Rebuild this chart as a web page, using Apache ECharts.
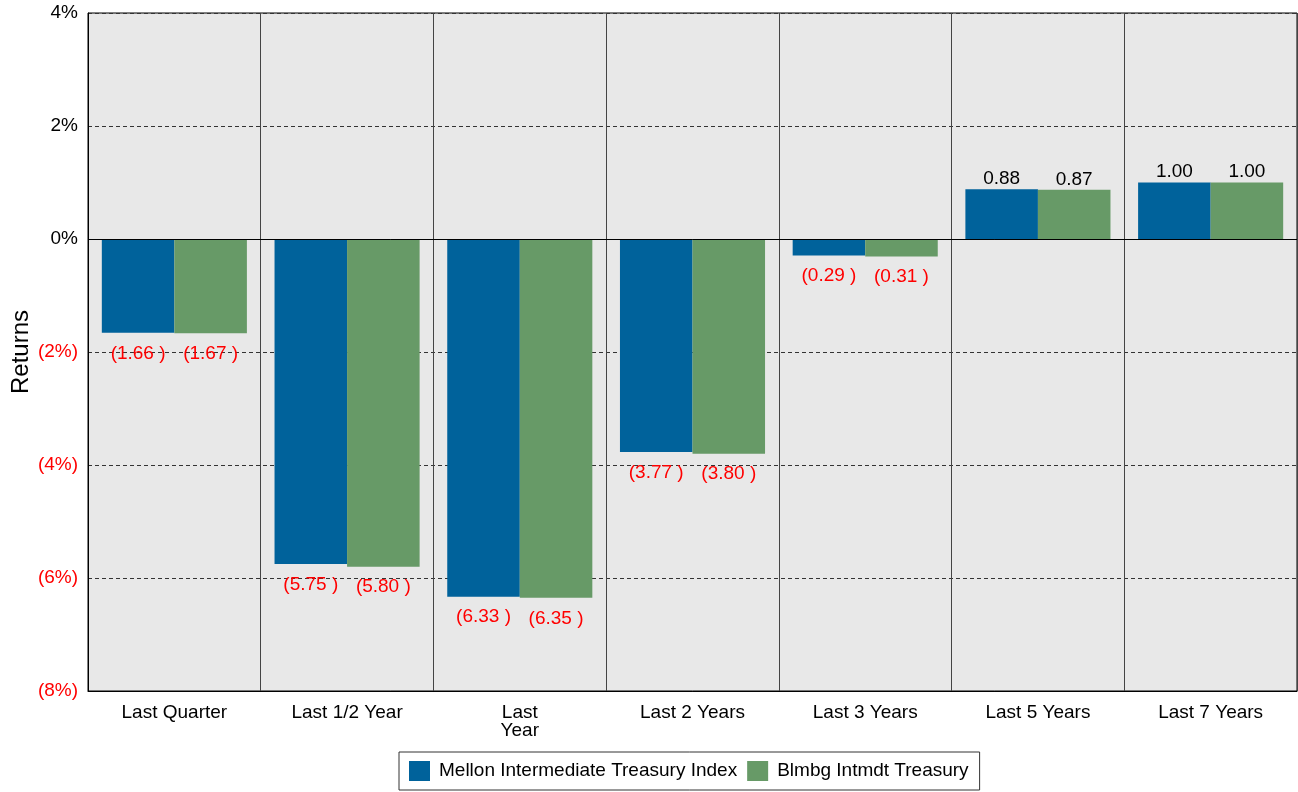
<!DOCTYPE html>
<html>
<head>
<meta charset="utf-8">
<script src="https://cdn.jsdelivr.net/npm/echarts@6/dist/echarts.min.js"></script>
<style>
html,body{margin:0;padding:0;background:#fff;}
#chart{width:1298px;height:792px;}
</style>
</head>
<body>
<div id="chart"></div>
<script>
const categories = ['Last Quarter', 'Last 1/2 Year', 'Last\nYear', 'Last 2 Years', 'Last 3 Years', 'Last 5 Years', 'Last 7 Years'];
const seriesNames = ['Mellon Intermediate Treasury Index', 'Blmbg Intmdt Treasury'];
const mellonValues = [-1.66, -5.75, -6.33, -3.77, -0.29, 0.88, 1.00];
const blmbgValues = [-1.67, -5.80, -6.35, -3.80, -0.31, 0.87, 1.00];
const yTicks = [-8, -6, -4, -2, 0, 2, 4];

const FONT = 'Liberation Sans, Arial, sans-serif';

function fmtVal(v) {
  return v < 0 ? '(' + Math.abs(v).toFixed(2) + ' )' : v.toFixed(2);
}
function toData(arr) {
  return arr.map(v => ({
    value: v,
    label: {
      position: v < 0 ? 'bottom' : 'top',
      distance: v < 0 ? 11 : 1,
      color: v < 0 ? '#ff0000' : '#000000'
    }
  }));
}

const chart = echarts.init(document.getElementById('chart'), null, {renderer: 'canvas'});
const barLabel = {
  show: true,
  fontFamily: FONT,
  fontSize: 19,
  formatter: p => fmtVal(p.value)
};
chart.setOption({
  animation: false,
  textStyle: {fontFamily: FONT},
  grid: {
    left: 88, top: 13, right: 1, bottom: 101,
    containLabel: false,
    outerBoundsMode: 'none',
    show: true, backgroundColor: '#e8e8e8', borderColor: '#000', borderWidth: 1
  },
  legend: {
    top: 752,
    left: 399,
    data: seriesNames,
    itemWidth: 21,
    itemHeight: 20,
    itemGap: 10,
    icon: 'rect',
    borderColor: '#333',
    borderWidth: 1,
    padding: [9, 11, 9, 10],
    textStyle: {fontFamily: FONT, fontSize: 19, color: '#000', padding: [0, 0, 0, 4]}
  },
  xAxis: {
    type: 'category',
    data: categories,
    axisTick: {show: false},
    axisLine: {show: true, onZero: false, lineStyle: {color: '#000', width: 1}},
    axisLabel: {fontFamily: FONT, fontSize: 19, color: '#000', margin: 13, interval: 0, lineHeight: 18},
    splitLine: {show: true, interval: 0, lineStyle: {color: '#444', width: 1, type: 'solid'}}
  },
  yAxis: {
    type: 'value',
    min: yTicks[0],
    max: yTicks[yTicks.length - 1],
    interval: 2,
    name: 'Returns',
    nameLocation: 'middle',
    nameGap: 55,
    nameMoveOverlap: false,
    nameRotate: 90,
    nameTextStyle: {fontFamily: FONT, fontSize: 24, color: '#000'},
    axisLine: {show: true, lineStyle: {color: '#000'}},
    axisTick: {show: false},
    axisLabel: {
      fontFamily: FONT, fontSize: 19, margin: 10,
      formatter: v => v < 0 ? '(' + Math.abs(v) + '%)' : v + '%',
      color: v => (v < 0 ? '#ff0000' : '#000000')
    },
    splitLine: {show: true, lineStyle: {color: '#333', type: [4, 3], width: 1}}
  },
  series: [
    {
      name: seriesNames[0],
      type: 'bar',
      data: toData(mellonValues),
      itemStyle: {color: '#00629b'},
      barGap: '0%',
      barCategoryGap: '16%',
      label: barLabel,
      markLine: {
        silent: true, symbol: 'none', label: {show: false},
        lineStyle: {color: '#000', type: 'solid', width: 1},
        data: [{yAxis: 0}]
      }
    },
    {
      name: seriesNames[1],
      type: 'bar',
      data: toData(blmbgValues),
      itemStyle: {color: '#679a67'},
      barGap: '0%',
      barCategoryGap: '16%',
      label: barLabel
    }
  ]
});
</script>
</body>
</html>
